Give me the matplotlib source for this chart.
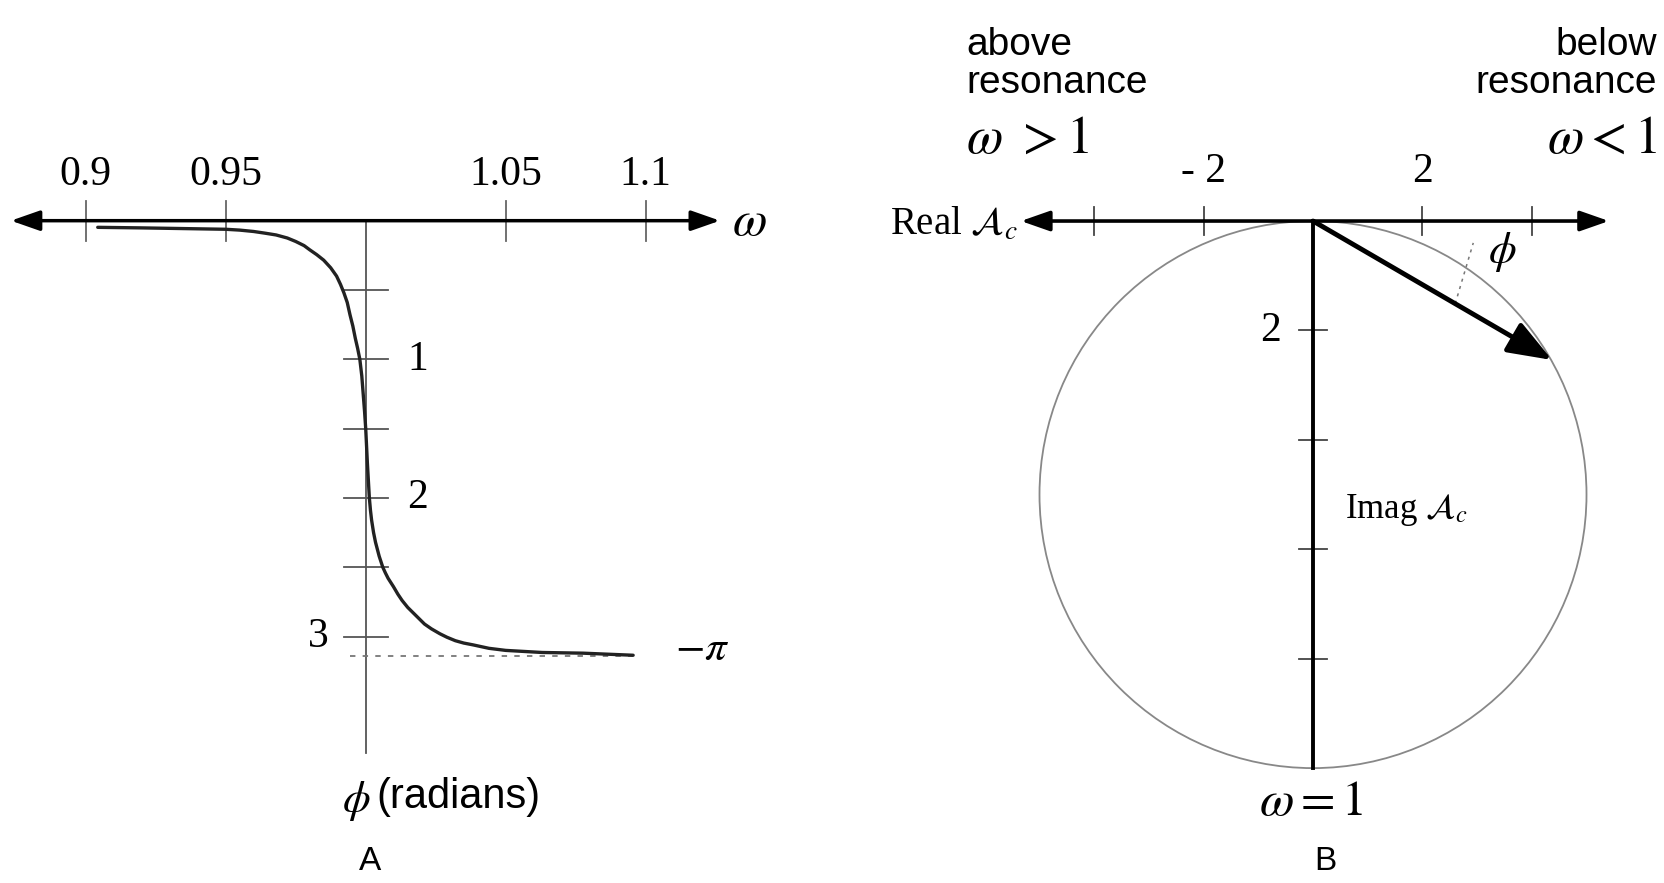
import matplotlib
matplotlib.use('Agg')
import matplotlib.pyplot as plt
from matplotlib.patches import Circle

plt.rcParams['mathtext.fontset'] = 'stix'
SERIF = 'Liberation Serif'
SANS = 'Liberation Sans'

# ---------------- Panel A data ----------------
omega = [0.9043, 0.92, 0.935, 0.95, 0.955, 0.96, 0.964, 0.968, 0.972, 0.975,
         0.978, 0.980, 0.9825, 0.985, 0.9875, 0.9896, 0.991, 0.9922, 0.9934,
         0.9944, 0.9954, 0.9963, 0.9971, 0.9979, 0.9986, 0.9991, 0.9996, 1.0000,
         1.0006, 1.0013, 1.0017, 1.0021, 1.0028, 1.0035, 1.0048, 1.0061, 1.0070,
         1.0080, 1.0099, 1.0115, 1.0130, 1.0150, 1.0170, 1.0190, 1.0210, 1.0235,
         1.0265, 1.0290, 1.0320, 1.0350, 1.0383, 1.0440, 1.0500, 1.0630, 1.0776,
         1.0955]
phase = [0.048, 0.052, 0.057, 0.062, 0.068, 0.078, 0.090, 0.103, 0.125, 0.150,
         0.180, 0.210, 0.245, 0.285, 0.340, 0.400, 0.460, 0.520, 0.590,
         0.680, 0.760, 0.850, 0.920, 1.000, 1.120, 1.250, 1.380, 1.500,
         1.750, 2.000, 2.090, 2.160, 2.250, 2.320, 2.420, 2.500, 2.540,
         2.580, 2.640, 2.695, 2.740, 2.790, 2.830, 2.870, 2.910, 2.945,
         2.980, 3.005, 3.030, 3.047, 3.060, 3.085, 3.100, 3.115, 3.120,
         3.135]
omega_ticks = [0.9, 0.95, 1.05, 1.1]
omega_ticklabels = ['0.9', '0.95', '1.05', '1.1']
phase_ticks = [0.5, 1.0, 1.5, 2.0, 2.5, 3.0]
phase_label_values = [1, 2, 3]
phase_label_text = ['1', '2', '3']
phase_limit = 3.14159
omega_axis_range = [0.8733, 1.1265]
phase_axis_max = 3.84

# ---------------- Panel B data ----------------
circle_center = (0.0, 5.0)
circle_radius = 5.0
real_ticks = [-4, -2, 2, 4]
real_label_values = [-2, 2]
real_label_text = ['- 2', '2']
imag_ticks = [2, 4, 6, 8]
imag_label_values = [2]
imag_label_text = ['2']
real_axis_range = [-5.34, 5.41]
phasor_tip = (4.37, 2.54)

fig = plt.figure(figsize=(16.65, 8.83), dpi=100)

# ================= Panel A =================
axA = fig.add_axes([0, 0, 830 / 1665, 1])
axA.set_xlim(0.8694, 1.1658)
axA.set_ylim(4.778, -1.592)
axA.axis('off')

axA.annotate('', xy=(omega_axis_range[1], 0), xytext=(omega_axis_range[0], 0),
             arrowprops=dict(arrowstyle='<|-|>,head_length=0.8,head_width=0.28',
                             lw=2.5, color='black', mutation_scale=22,
                             shrinkA=0, shrinkB=0))
axA.plot([1.0, 1.0], [0, phase_axis_max], color='#555555', lw=1.3, zorder=1)
for t in omega_ticks:
    axA.plot([t, t], [-0.145, 0.145], color='#666666', lw=1.3)
for t, lab in zip(omega_ticks, omega_ticklabels):
    axA.text(t, -0.33, lab, ha='center', va='center', fontsize=30, family=SERIF)
for p in phase_ticks:
    axA.plot([1 - 0.0079, 1 + 0.0079], [p, p], color='#555555', lw=1.3)
for p, lab in zip(phase_label_values, phase_label_text):
    x = 0.983 if p == 3 else 1.0185
    axA.text(x, p, lab, ha='center', va='center', fontsize=30, family=SERIF)
axA.plot([0.9944, 1.0955], [phase_limit, phase_limit], color='#777777', lw=1.3,
         ls=(0, (3, 4)))
axA.plot(omega, phase, color='#222222', lw=2.4, solid_capstyle='round',
         solid_joinstyle='round', zorder=3)

axA.text(1.1308, 0.0, r'$\omega$', ha='left', va='center', fontsize=36)
axA.text(1.1105, 3.08, r'$-\pi$', ha='left', va='center', fontsize=31)
axA.text(0.9965, 4.19, r'$\phi$', ha='center', va='center', fontsize=32)
axA.text(1.0037, 4.16, '(radians)', ha='left', va='center', fontsize=30, family=SANS)
axA.text(1.0015, 4.62, 'A', ha='center', va='center', fontsize=24, family=SANS)

# ================= Panel B =================
axB = fig.add_axes([830 / 1665, 0, 835 / 1665, 1])
axB.set_xlim(-8.83, 6.435)
axB.set_ylim(12.10, -4.04)
axB.axis('off')

circ = Circle(circle_center, circle_radius, fill=False, ec='#888888', lw=1.3)
axB.add_patch(circ)

axB.annotate('', xy=(real_axis_range[1], 0), xytext=(real_axis_range[0], 0),
             arrowprops=dict(arrowstyle='<|-|>,head_length=0.8,head_width=0.28',
                             lw=2.6, color='black', mutation_scale=22,
                             shrinkA=0, shrinkB=0))
axB.plot([0, 0], [0, 2 * circle_radius], color='black', lw=2.8, zorder=3)
for t in real_ticks:
    axB.plot([t, t], [-0.25, 0.25], color='#444444', lw=1.3)
for t, lab in zip(real_label_values, real_label_text):
    axB.text(t, -0.9, lab, ha='center', va='center', fontsize=30, family=SERIF)
for t in imag_ticks:
    axB.plot([-0.25, 0.25], [t, t], color='#444444', lw=1.3)
for t, lab in zip(imag_label_values, imag_label_text):
    axB.text(-0.77, t, lab, ha='center', va='center', fontsize=30, family=SERIF)

axB.annotate('', xy=phasor_tip, xytext=(0, 0),
             arrowprops=dict(arrowstyle='-|>,head_length=0.9,head_width=0.34',
                             lw=3.5, color='black', mutation_scale=30,
                             shrinkA=0, shrinkB=0))
axB.plot([2.60, 2.93], [1.51, 0.40], color='#777777', lw=1.1, ls=(0, (2, 3)))
axB.text(3.46, 0.57, r'$\phi$', ha='center', va='center', fontsize=32)

axB.text(-5.39, 0.07, r'Real $\mathcal{A}_c$', ha='right', va='center',
         fontsize=28, family=SERIF)
axB.text(0.585, 5.28, r'Imag $\mathcal{A}_c$', ha='left', va='center',
         fontsize=25, family=SERIF)
axB.text(-0.04, 10.6, r'$\omega = 1$', ha='center', va='center', fontsize=36)
axB.text(0.22, 11.70, 'B', ha='center', va='center', fontsize=24, family=SANS)

axB.text(-6.34, -3.22, 'above', ha='left', va='center', fontsize=28, family=SANS)
axB.text(-6.34, -2.52, 'resonance', ha='left', va='center', fontsize=28, family=SANS)
axB.text(-6.34, -1.52, r'$\omega\ >1$', ha='left', va='center', fontsize=38)
axB.text(6.29, -3.22, 'below', ha='right', va='center', fontsize=28, family=SANS)
axB.text(6.29, -2.52, 'resonance', ha='right', va='center', fontsize=28, family=SANS)
axB.text(6.29, -1.52, r'$\omega<1$', ha='right', va='center', fontsize=38)

fig.savefig('out.png', dpi=100)
